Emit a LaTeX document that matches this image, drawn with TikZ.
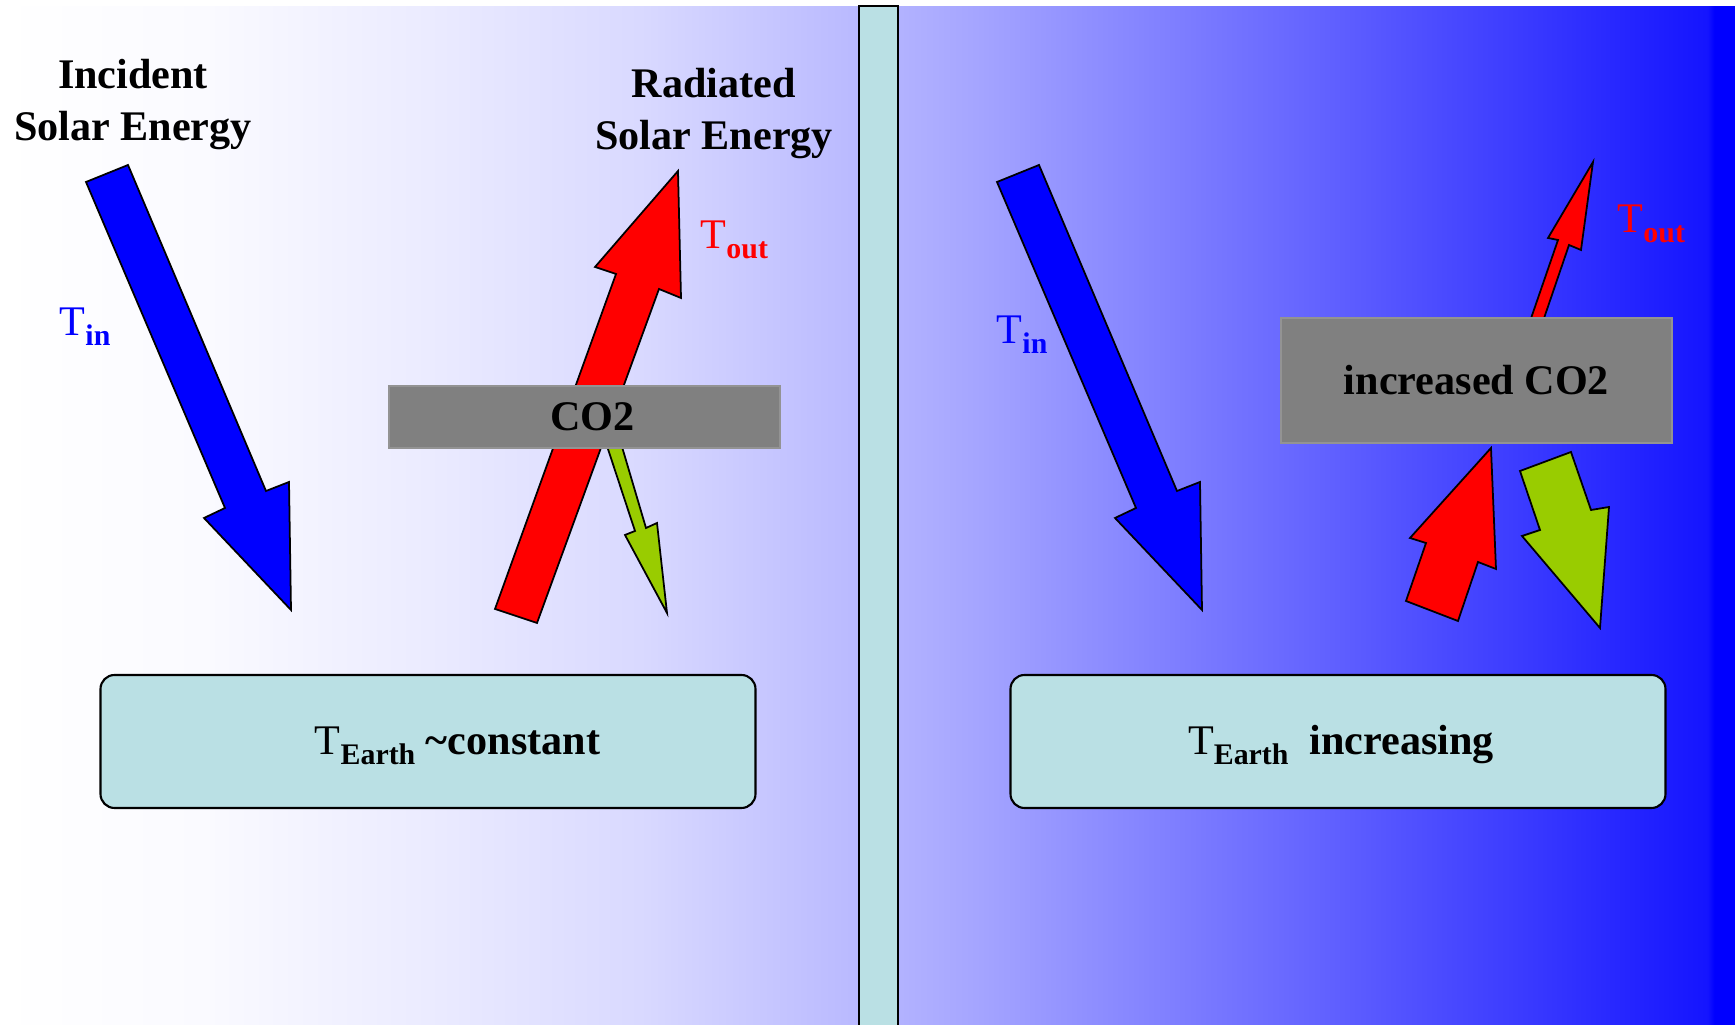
\documentclass[tikz,border=0pt]{standalone}
\usepackage{fontspec}
\setmainfont{Liberation Serif}
\usepackage{xcolor}
\usepackage{tikz}
\usetikzlibrary{positioning}
\definecolor{earthcyan}{RGB}{186,224,228}
\definecolor{leafgreen}{RGB}{153,204,0}
\definecolor{gasgray}{RGB}{128,128,128}
\pgfdeclarehorizontalshading{skyshade}{100bp}{color(0bp)=(white); color(25bp)=(white); color(31bp)=(blue!2); color(37.5bp)=(blue!8); color(43.5bp)=(blue!15); color(50bp)=(blue!28); color(53bp)=(blue!35); color(62.5bp)=(blue!60); color(68.5bp)=(blue!76); color(74.2bp)=(blue!92); color(74.4bp)=(blue); color(100bp)=(blue)}
\newcommand{\Tsub}[1]{T\raisebox{-2.8pt}{\fontsize{8.5}{9}\selectfont\bfseries #1}}
\tikzstyle{caption}=[
font=\fontsize{12}{14.8}\selectfont\bfseries,
align=center,
inner sep=0pt
]
\tikzstyle{templabel}=[
font=\fontsize{12}{14}\selectfont,
inner sep=0pt,
anchor=base west
]
\tikzstyle{earthbox}=[
draw,
rounded corners=1.4mm,
fill=earthcyan,
line width=0.6pt,
minimum width=65.5mm,
minimum height=13.3mm
]
\tikzstyle{gasbox}=[
fill=gasgray,
draw=gasgray!85,
line width=0.3pt,
minimum width=39.1mm,
font=\fontsize{12}{14}\selectfont\bfseries
]
\tikzstyle{blockarrow}=[
draw=black,
line width=0.5pt,
line join=miter
]

\begin{document}
\begin{tikzpicture}[x=0.1mm,y=-0.1mm]
\useasboundingbox (0,0) rectangle (1735,1025);

% sky and divider
\shade[shading=skyshade] (0,7) rectangle (1735,1025);
\draw[fill=earthcyan, line width=0.6pt] (859,6) rectangle (898,1035);

% incoming energy, both panels
\foreach \dx in {0,911}
  \draw[blockarrow, fill=blue, shift={(\dx,0)}] (86,182) -- (128,165) -- (266,491) -- (289,482) -- (291,610) -- (204,518) -- (225,508) -- cycle;

% left panel
\draw[blockarrow, fill=leafgreen] (605,440) -- (620,440) -- (646,528) -- (657,523) -- (667,613) -- (625,535) -- (635,531) -- cycle;
\draw[blockarrow, fill=red] (495,609) -- (537,623) -- (659,289) -- (681,298) -- (678,171) -- (595,267) -- (616,274) -- cycle;
\node (gasL) [gasbox, minimum height=6.2mm] at (584.5,417) {\hspace*{1.6mm}CO2};

% right panel
\draw[blockarrow, fill=red] (1527,330) -- (1540,330) -- (1569,245) -- (1581,250) -- (1593,162) -- (1548,238) -- (1558,240) -- cycle;
\draw[blockarrow, fill=red] (1406,601) -- (1458,621) -- (1478,562) -- (1496,569) -- (1491,448) -- (1410,538) -- (1426,543) -- cycle;
\draw[blockarrow, fill=leafgreen] (1520,471) -- (1571,452) -- (1591,510) -- (1609,507) -- (1600,628) -- (1522,536) -- (1540,530) -- cycle;
\node (gasR) [gasbox, minimum height=12.5mm] at (1476.5,380.5) {increased CO2};

% earth
\node (earthL) [earthbox] at (428,741.5) {};
\node (earthR) [earthbox] at (1338,741.5) {};
\node (earthLtext) [caption, anchor=base] at (457.5,755) {\mdseries\Tsub{Earth} \textbf{\textasciitilde constant}};
\node (earthRtext) [caption, anchor=base] at (1341,755) {\mdseries\Tsub{Earth} \textbf{ increasing}};

% captions
\node (incident) [caption] at (133,105) {Incident\\Solar Energy};
\node (radiated) [caption] at (714,114) {Radiated\\Solar Energy};
\node (tinL) [templabel, text=blue] at (59,336) {\Tsub{in}};
\node (tinR) [templabel, text=blue] at (996,344) {\Tsub{in}};
\node (toutL) [templabel, text=red] at (700,249) {\Tsub{out}};
\node (toutR) [templabel, text=red] at (1617,233) {\Tsub{out}};

\end{tikzpicture}
\end{document}
